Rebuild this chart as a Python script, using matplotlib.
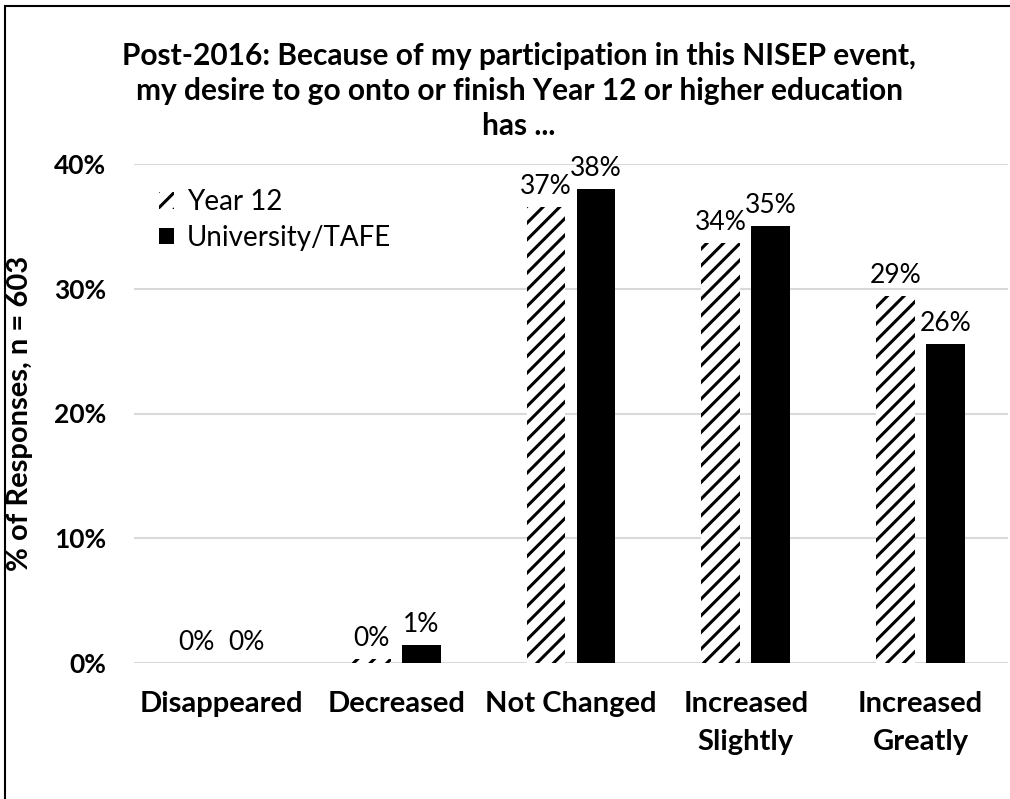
import numpy as np
import matplotlib.pyplot as plt
from matplotlib.patches import Rectangle

categories = ["Disappeared", "Decreased", "Not Changed", "Increased\nSlightly", "Increased\nGreatly"]
year12 = [0.0, 0.32, 36.55, 33.65, 29.4]
uni = [0.0, 1.44, 38.0, 35.0, 25.57]
year12_labels = ["0%", "0%", "37%", "34%", "29%"]
uni_labels = ["0%", "1%", "38%", "35%", "26%"]
yticks = [0, 10, 20, 30, 40]
title = ("Post-2016: Because of my participation in this NISEP event,\n"
         "my desire to go onto or finish Year 12 or higher education\n"
         "has ...")

plt.rcParams['font.family'] = ['Lato', 'DejaVu Sans']
plt.rcParams['hatch.linewidth'] = 2.2

fig = plt.figure(figsize=(10.1, 7.99), dpi=100)
ax = fig.add_axes([134 / 1010, 1 - 663 / 799, 874 / 1010, 499 / 799])

x = np.arange(len(categories))
w = 0.223
off = 0.143
b1 = ax.bar(x - off, year12, w, color='white', edgecolor='black', hatch='//', linewidth=0, label='Year 12')
b2 = ax.bar(x + off, uni, w, color='black', linewidth=0, label='University/TAFE')

for rect, lab in zip(b1, year12_labels):
    ax.annotate(lab, (rect.get_x() + rect.get_width() / 2, rect.get_height()),
                xytext=(0, 6), textcoords='offset points', ha='center', va='bottom', fontsize=19)
for rect, lab in zip(b2, uni_labels):
    ax.annotate(lab, (rect.get_x() + rect.get_width() / 2, rect.get_height()),
                xytext=(0, 6), textcoords='offset points', ha='center', va='bottom', fontsize=19)

ax.set_xlim(-0.5, len(categories) - 0.5)
ax.set_ylim(0, 40)
ax.set_yticks(yticks)
ax.set_yticklabels([f"{t}%" for t in yticks], fontsize=19, fontweight='bold')
ax.set_xticks(x)
ax.set_xticklabels(categories, fontsize=21, fontweight='bold', linespacing=1.6)
ax.tick_params(axis='both', length=0)
ax.tick_params(axis='y', pad=20)
ax.tick_params(axis='x', pad=20)
ax.grid(axis='y', color='#d9d9d9', linewidth=1.5)
ax.set_axisbelow(True)
for s in ax.spines.values():
    s.set_visible(False)

ax.set_ylabel("% of Responses, n = 603", fontsize=21, fontweight='bold')
ax.yaxis.set_label_coords(-0.116, 0.5)

leg = ax.legend(loc='upper left', bbox_to_anchor=(0.0, 1.0), frameon=False, fontsize=20,
                handlelength=0.55, handleheight=0.55, handletextpad=0.45, labelspacing=0.35,
                borderpad=0.4, borderaxespad=0.5)

fig.text(519 / 1010, 1 - 42 / 799, title, ha='center', va='top', fontsize=21.5,
         fontweight='bold', linespacing=1.3)

fig.patches.append(Rectangle((5 / 1010, -0.1), 1.2, 1 - 6 / 799 + 0.1, transform=fig.transFigure,
                             fill=False, edgecolor='black', linewidth=1.5))

fig.savefig("out.png", dpi=100)
